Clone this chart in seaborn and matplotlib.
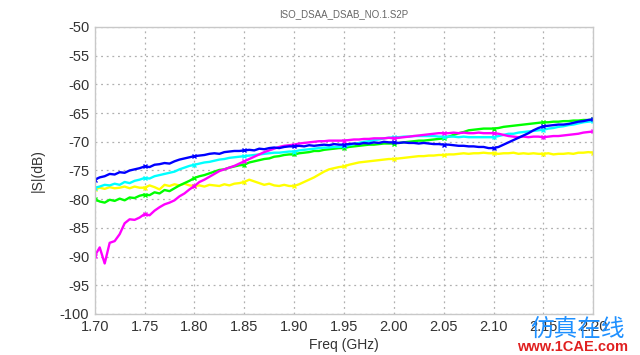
import numpy as np
import pandas as pd
import matplotlib
matplotlib.use("Agg")
import matplotlib.pyplot as plt
import seaborn as sns

# sweep grid 1.70 .. 2.20 GHz, 5 MHz step
freq = np.round(np.linspace(1.70, 2.20, 101), 3)

blue = [-76.6, -76.2, -76.0, -75.6, -75.7, -75.3, -75.4, -75.0, -74.8, -74.6,
        -74.3, -74.4, -74.0, -73.9, -73.7, -73.8, -73.4, -73.1, -72.9, -72.7,
        -72.5, -72.4, -72.3, -72.1, -72.0, -72.1, -71.8, -71.7, -71.6, -71.6,
        -71.5, -71.4, -71.5, -71.2, -71.3, -71.1, -71.0, -71.1, -70.9, -70.8,
        -70.8, -70.7, -70.8, -70.6, -70.7, -70.6, -70.5, -70.6, -70.4, -70.5,
        -70.5, -70.4, -70.3, -70.4, -70.2, -70.3, -70.1, -70.2, -70.0, -70.1,
        -70.1, -70.2, -70.1, -70.2, -70.2, -70.3, -70.2, -70.3, -70.4, -70.4,
        -70.5, -70.5, -70.6, -70.7, -70.7, -70.8, -70.8, -70.9, -70.9, -71.1,
        -71.1, -70.9, -70.5, -70.1, -69.7, -69.3, -68.9, -68.5, -68.0, -67.6,
        -67.3, -67.2, -67.1, -67.0, -67.0, -66.9, -66.7, -66.5, -66.4, -66.2,
        -66.1]

green = [-80.0, -80.4, -80.6, -80.1, -80.3, -79.9, -80.2, -79.7, -79.8, -79.4,
         -79.2, -79.3, -78.8, -79.0, -78.4, -78.6, -78.1, -77.6, -77.2, -76.8,
         -76.3, -76.0, -75.8, -75.5, -75.2, -74.9, -74.8, -74.5, -74.3, -74.1,
         -74.0, -73.6, -73.4, -73.2, -73.0, -72.9, -72.6, -72.5, -72.3, -72.2,
         -72.2, -72.0, -71.9, -71.8, -71.6, -71.6, -71.4, -71.3, -71.2, -71.1,
         -71.1, -70.9, -70.8, -70.7, -70.6, -70.5, -70.5, -70.4, -70.3, -70.3,
         -70.3, -70.2, -70.1, -70.0, -69.9, -69.8, -69.8, -69.7, -69.6, -69.5,
         -69.4, -69.1, -68.8, -68.5, -68.3, -68.0, -67.9, -67.8, -67.7, -67.7,
         -67.7, -67.6, -67.4, -67.3, -67.2, -67.1, -67.0, -66.9, -66.8, -66.7,
         -66.6, -66.6, -66.5, -66.5, -66.4, -66.4, -66.3, -66.3, -66.2, -66.2,
         -66.1]

cyan = [-78.0, -77.8, -77.5, -77.6, -77.3, -77.5, -77.0, -77.2, -76.8, -76.6,
        -76.3, -76.4, -76.0, -75.8, -75.6, -75.4, -75.2, -74.8, -74.5, -74.2,
        -74.0, -73.8, -73.6, -73.5, -73.3, -73.1, -73.0, -72.8, -72.7, -72.6,
        -72.5, -72.4, -72.3, -72.2, -72.1, -72.0, -71.9, -71.9, -71.8, -71.7,
        -71.7, -71.5, -71.4, -71.3, -71.2, -71.1, -71.0, -71.0, -70.9, -70.9,
        -70.8, -70.6, -70.4, -70.2, -70.0, -69.9, -69.7, -69.6, -69.4, -69.3,
        -69.2, -69.2, -69.1, -69.1, -69.0, -69.0, -69.0, -69.0, -69.0, -69.1,
        -69.1, -69.1, -69.1, -69.2, -69.1, -69.2, -69.2, -69.2, -69.2, -69.2,
        -69.2, -69.0, -68.8, -68.6, -68.6, -68.4, -68.3, -68.2, -68.1, -68.0,
        -67.9, -67.7, -67.6, -67.4, -67.3, -67.1, -67.0, -66.8, -66.6, -66.5,
        -66.4]

magenta = [-89.9, -88.4, -91.2, -87.6, -87.3, -86.1, -84.2, -83.5, -83.6, -83.2,
           -82.6, -82.8, -82.0, -81.4, -80.9, -80.6, -80.2, -79.5, -79.0, -78.3,
           -77.7, -77.0, -76.6, -76.1, -75.6, -75.1, -74.8, -74.5, -74.2, -73.8,
           -73.4, -73.0, -72.6, -72.2, -71.8, -71.5, -71.2, -70.9, -70.7, -70.6,
           -70.5, -70.3, -70.2, -70.1, -70.0, -69.9, -69.9, -69.8, -69.8, -69.8,
           -69.8, -69.7, -69.6, -69.6, -69.5, -69.5, -69.4, -69.4, -69.4, -69.3,
           -69.4, -69.3, -69.2, -69.1, -69.0, -68.9, -68.8, -68.7, -68.6, -68.5,
           -68.5, -68.5, -68.4, -68.5, -68.4, -68.5, -68.5, -68.4, -68.5, -68.5,
           -68.5, -68.6, -68.8, -69.0, -69.1, -69.2, -69.1, -69.2, -69.1, -69.1,
           -69.2, -69.1, -69.0, -69.0, -68.9, -68.8, -68.7, -68.6, -68.4, -68.3,
           -68.2]

yellow = [-78.3, -78.0, -78.2, -77.9, -78.1, -78.0, -77.8, -78.1, -77.8, -78.0,
          -78.0, -77.6, -77.9, -78.3, -77.5, -77.7, -77.4, -77.6, -77.3, -77.6,
          -77.7, -77.6, -77.8, -77.5, -77.6, -77.7, -77.4, -77.6, -77.3, -77.2,
          -77.0, -76.6, -76.9, -77.2, -77.5, -77.3, -77.6, -77.7, -77.5, -77.7,
          -77.7, -77.4, -77.0, -76.6, -76.2, -75.7, -75.2, -74.8, -74.6, -74.4,
          -74.3, -74.0, -73.8, -73.6, -73.5, -73.4, -73.3, -73.2, -73.1, -73.0,
          -73.0, -72.9, -72.8, -72.7, -72.6, -72.5, -72.5, -72.4, -72.4, -72.3,
          -72.3, -72.2, -72.2, -72.1, -72.0, -72.1, -72.0, -72.0, -71.9, -72.0,
          -72.0, -72.1, -72.0, -72.0, -71.9, -72.1, -72.0, -72.1, -72.0, -72.1,
          -72.1, -72.0, -72.2, -72.1, -72.1, -72.0, -72.1, -71.9, -71.9, -71.8,
          -71.9]

series = {"yellow": yellow, "green": green, "cyan": cyan, "magenta": magenta, "blue": blue}
colors = {"yellow": "#ffff00", "green": "#00ff00", "cyan": "#00ffff",
          "magenta": "#ff00ff", "blue": "#0000ff"}

sns.set_style("white")
plt.rcParams['font.family'] = ['Liberation Sans', 'DejaVu Sans']
plt.rcParams['axes.unicode_minus'] = False

fig = plt.figure(figsize=(6.4, 3.55), dpi=100)
ax = fig.add_axes([0.148, 0.1155, 0.779, 0.8085])

for name, vals in series.items():
    df = pd.DataFrame({"freq": freq, "s": vals})
    sns.lineplot(data=df, x="freq", y="s", color=colors[name], lw=1.7,
                 marker="x", markevery=10, markersize=3, mew=1.0,
                 markeredgecolor=colors[name], ax=ax)

ticks_x = np.arange(1.70, 2.201, 0.05)
ax.set_xlim(1.70, 2.20)
ax.set_ylim(-100, -50)
ax.set_xticks(ticks_x)
ax.set_xticklabels([f"{v:.2f}" for v in ticks_x])
ax.set_yticks(np.arange(-100, -49, 5))
ax.tick_params(axis="both", length=0, labelsize=10.5, labelcolor="#333333", pad=4)
ax.grid(True, ls=(0, (1.5, 3)), color="#b0b0b0", lw=0.9)
for sp in ax.spines.values():
    sp.set_color("#c8c8c8")
    sp.set_linewidth(1.0)

ax.set_xlabel("Freq (GHz)", fontsize=10, color="#333333", labelpad=3)
ax.set_ylabel("|S|(dB)", fontsize=10, color="#333333", labelpad=11)
ax.set_title("ISO_DSAA_DSAB_NO.1.S2P", fontsize=7, color="#666666", pad=7)

# watermark in the lower right corner (sits over the last tick labels, as in the source)
fig.text(0.903, 0.072, "仿真在线", fontsize=17, color="#1e90ff",
         ha="center", va="center", family=['Noto Sans CJK SC', 'DejaVu Sans'])
fig.text(0.895, 0.022, "www.1CAE.com", fontsize=10.5, color="#e02020",
         ha="center", va="center", fontweight="bold")

fig.savefig("out.png", dpi=100)
